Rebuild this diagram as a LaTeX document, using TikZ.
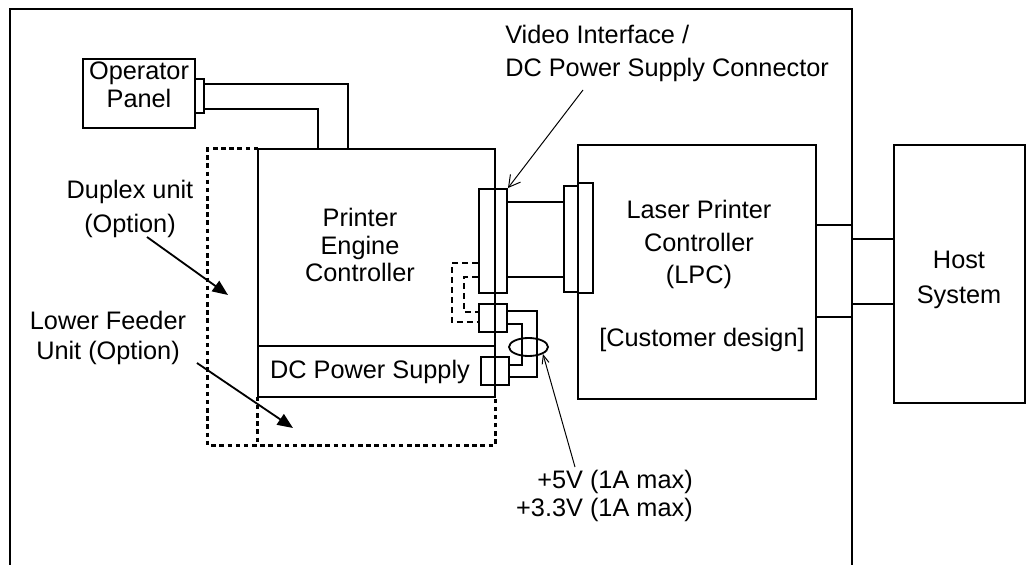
\documentclass[tikz,border=0pt]{standalone}
\usepackage{fontspec}
\setmainfont{Liberation Sans}
\usetikzlibrary{arrows.meta,positioning,fit,shapes.geometric}
\tikzset{
  unitbox/.style={draw, line width=1.5pt, inner sep=0pt},
  boardbox/.style={draw, line width=0.9pt, inner sep=0pt},
  plugbox/.style={draw, line width=1.4pt, inner sep=0pt},
  optline/.style={line width=1.8pt, dash pattern=on 3.2pt off 2.6pt},
  wireline/.style={line width=1.2pt},
  boardline/.style={line width=0.9pt},
  sigline/.style={line width=1.3pt, dash pattern=on 4.3pt off 2.8pt},
  lbl/.style={font=\fontsize{18}{#1}\selectfont, align=center, inner sep=0pt},
  lbl/.default=23,
  pointer/.style={line width=0.7pt, -{Straight Barb[length=8pt,width=9pt]}},
  bigarrow/.style={line width=1.3pt, -{Triangle[length=11pt,width=9pt]}}
}
\begin{document}
\begin{tikzpicture}[x=0.025cm, y=-0.025cm]
  \useasboundingbox (0,0) rectangle (1026,565);
  % Outer frame (open at the bottom)
  \draw[line width=1.1pt] (10,565) -- (10,9) -- (852,9) -- (852,565);
  % Optional units
  \node[inner sep=0pt, fit={(208,149) (258,445)}] (dup) {};
  \node[inner sep=0pt, fit={(258,397) (495,445)}] (lfu) {};
  \draw[optline] (dup.north east) -- (dup.north west) -- (dup.south west)
    -- (lfu.south east) -- (lfu.north east);
  \draw[optline] (lfu.north west) -- (lfu.south west);
  % Printer engine
  \node[unitbox, fit={(258,149) (495,397)}] (pec) {};
  \node[unitbox, fit={(258,346) (495,397)}] (dcps) {};
  \node[lbl=19.5] (pectxt) at (360,245) {Printer\\Engine\\Controller};
  \node[lbl] (dcpstxt) at (370,372) {DC Power Supply};
  % Operator panel
  \node[unitbox, lbl=19.8, fit={(83,59) (195,128)}] (op) {Operator\\Panel};
  \node[plugbox, line width=1.1pt, fit={(195,79) (204,113)}] (opc) {};
  \draw[wireline] (opc.east |- 0,84) -| (348,0 |- pec.north);
  \draw[wireline] (opc.east |- 0,109) -| (318,0 |- pec.north);
  % Connectors on the engine
  \node[plugbox, fit={(479,189) (507,293)}] (vid) {};
  \node[plugbox, fit={(479,304) (507,332)}] (sig) {};
  \node[plugbox, fit={(481,357) (509,385)}] (dcc) {};
  % Laser printer controller
  \node[boardbox, fit={(578,145) (816,399)}] (lpc) {};
  \node[plugbox, fit={(564,186) (578,292)}] (lpcA) {};
  \node[boardbox, fit={(578,183) (593,293)}] (lpcB) {};
  \node[lbl] (lpctxt) at (699,244.5) {Laser Printer\\Controller\\(LPC)};
  \node[lbl] (custtxt) at (702,340) {[Customer design]};
  % Host
  \node[boardbox, line width=1.1pt, fit={(894,145) (1025,403)}] (host) {};
  \node[lbl=24.8] (hosttxt) at (959,279.5) {Host\\System};
  % Video cable
  \draw[wireline] (vid.east |- 0,202) -- (lpcA.west |- 0,202);
  \draw[wireline] (vid.east |- 0,277) -- (lpcA.west |- 0,277);
  % Signal loop (dashed)
  \draw[sigline] (vid.west |- 0,263) -| (452,322) -- (sig.west |- 0,322);
  \draw[sigline] (vid.west |- 0,277) -| (464,312) -- (sig.west |- 0,312);
  % Power wires
  \draw[wireline] (sig.east |- 0,311) -| (537,377) -- (dcc.east |- 0,377);
  \draw[wireline] (sig.east |- 0,324) -| (522,365) -- (dcc.east |- 0,365);
  \node[draw, ellipse, line width=1.3pt, minimum width=0.975cm,
        minimum height=0.45cm, inner sep=0pt] (bund) at (528.5,347) {};
  % LPC to host through the frame
  \coordinate (frA) at (852,225);
  \coordinate (frB) at (852,317);
  \coordinate (frC) at (852,239);
  \coordinate (frD) at (852,304);
  \draw[boardline] (lpc.east |- frA) -- (frA);
  \draw[boardline] (lpc.east |- frB) -- (frB);
  \draw[boardline] (frC) -- (host.west |- frC);
  \draw[boardline] (frD) -- (host.west |- frD);
  % Labels and pointers
  \node[lbl=23.4, align=left, anchor=west] (vidlbl) at (505,53.5)
    {Video Interface /\\DC Power Supply Connector};
  \coordinate (vidtail) at (583,90);
  \draw[pointer] (vidtail) -- (vid.north east);
  \node[lbl=19.8, align=right, anchor=east] (pwrlbl) at (693,496)
    {+5V (1A max)\\+3.3V (1A max)};
  \coordinate (pwrtail) at (575,467);
  \draw[line width=0.7pt, -{Straight Barb[length=6pt,width=5pt]}] (pwrtail) -- (bund.south east);
  \node[lbl=24.1] (duplbl) at (130,209) {Duplex unit\\(Option)};
  \coordinate (duptail) at (147,237);
  \coordinate (duphead) at (228,295);
  \draw[bigarrow] (duptail) -- (duphead);
  \node[lbl=21.3] (lfulbl) at (108,338) {Lower Feeder\\Unit (Option)};
  \coordinate (lfutail) at (197,363);
  \coordinate (lfuhead) at (293,428);
  \draw[bigarrow] (lfutail) -- (lfuhead);
\end{tikzpicture}
\end{document}
